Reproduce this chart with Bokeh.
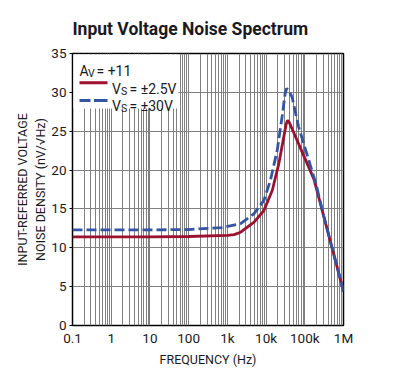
from bokeh.plotting import figure
from bokeh.models import (Range1d, FixedTicker, CustomJSTickFormatter, BoxAnnotation, Label)
from bokeh.embed import file_html
from bokeh.resources import INLINE

# ---- data ----
freq_red = [0.1, 1, 10, 100, 1000, 1500, 2200, 4900, 8800, 14500, 21500, 29000, 33000,
            36000, 40000, 52000, 95000, 173000, 300000, 500000, 1000000]
noise_red = [11.4, 11.4, 11.4, 11.45, 11.6, 11.7, 12.0, 13.3, 14.8, 17.4, 20.9, 24.4, 25.9,
             26.4, 26.1, 24.8, 21.8, 18.8, 14.3, 10.1, 4.4]

freq_blue = [0.1, 1, 10, 100, 700, 2200, 4900, 8800, 13000, 19500, 26000, 31000, 34000,
             38000, 47000, 69000, 105000, 160000, 200000, 300000, 500000, 1000000]
noise_blue = [12.3, 12.3, 12.3, 12.35, 12.6, 13.1, 14.4, 16.1, 18.7, 22.6, 26.9, 29.8, 30.5,
              30.3, 29.4, 25.6, 22.6, 19.6, 18.0, 14.3, 10.1, 4.4]

x_ticks = [0.1, 1, 10, 100, 1e3, 1e4, 1e5, 1e6]
x_tick_labels = ["0.1", "1", "10", "100", "1k", "10k", "100k", "1M"]
y_ticks = [0, 5, 10, 15, 20, 25, 30, 35]

RED = "#9c1030"
BLUE = "#3454a4"
GRID = "#808080"
INK = "#1a1a24"
FONT = "Roboto"

p = figure(width=402, height=371, x_axis_type="log",
           x_range=Range1d(0.1, 1e6), y_range=Range1d(0, 35),
           output_backend="svg", toolbar_location=None,
           min_border_left=72, min_border_right=59, min_border_top=53, min_border_bottom=46)
p.background_fill_color = "white"
p.border_fill_color = "white"
p.outline_line_color = "black"
p.outline_line_width = 1.5

minor = [k * 10.0 ** d for d in range(-1, 6) for k in range(2, 10)]
xt = FixedTicker(ticks=x_ticks, minor_ticks=minor)
p.xaxis.ticker = xt
p.xgrid.ticker = xt
p.yaxis.ticker = FixedTicker(ticks=y_ticks)

p.xgrid.grid_line_color = GRID
p.xgrid.minor_grid_line_color = GRID
p.xgrid.grid_line_width = 1
p.xgrid.minor_grid_line_width = 1
p.ygrid.grid_line_color = GRID
p.ygrid.grid_line_width = 1.2

p.xaxis.formatter = CustomJSTickFormatter(args=dict(tv=x_ticks, lb=x_tick_labels), code="""
    for (let i = 0; i < tv.length; i++) {
        if (Math.abs(Math.log10(tv[i]) - Math.log10(tick)) < 1e-6) return lb[i];
    }
    return "";
""")

for ax in (p.xaxis, p.yaxis):
    ax.axis_line_color = None
    ax.minor_tick_line_color = None
    ax.major_label_text_font = FONT
    ax.major_label_text_font_size = "13.5px"
    ax.major_label_text_color = INK
    ax.axis_label_text_font = FONT
    ax.axis_label_text_font_size = "12.5px"
    ax.axis_label_text_font_style = "normal"
    ax.axis_label_text_color = INK

p.xaxis.major_tick_line_color = None
p.xaxis.major_tick_out = 0
p.xaxis.major_label_standoff = 0
p.xaxis.axis_label = "FREQUENCY (Hz)"
p.xaxis.axis_label_standoff = 3

p.yaxis.major_tick_in = 0
p.yaxis.major_tick_out = 3
p.yaxis.major_tick_line_color = "black"
p.yaxis.major_label_standoff = 3
p.yaxis.axis_label = "INPUT-REFERRED VOLTAGE\nNOISE DENSITY (nV/√Hz)"
p.yaxis.axis_label_standoff = 0

p.title.text = "Input Voltage Noise Spectrum"
p.title.text_font = FONT
p.title.text_font_style = "bold"
p.title.text_font_size = "17.5px"
p.title.text_color = INK
p.title.align = "left"
p.title.standoff = 29

p.line(freq_red, noise_red, line_color=RED, line_width=2.8)
p.line(freq_blue, noise_blue, line_color=BLUE, line_width=2.8, line_dash="10 4")

# ---- legend (manual, for subscripts) ----
p.add_layout(BoxAnnotation(left=1, right=106, bottom=217, top=271,
                           left_units="screen", right_units="screen",
                           bottom_units="screen", top_units="screen",
                           fill_color="white", fill_alpha=1.0, line_color=None))

def txt(x, y, s, size="14px"):
    p.add_layout(Label(x=x, y=y, x_units="screen", y_units="screen", text=s,
                       text_font=FONT, text_font_size=size, text_color=INK,
                       text_baseline="alphabetic"))

txt(7, 255, "A")
txt(15.5, 252, "V", "10.5px")
txt(24, 255, "= +11")

p.add_layout(BoxAnnotation(left=7, right=35, bottom=241.2, top=244.2,
                           left_units="screen", right_units="screen",
                           bottom_units="screen", top_units="screen",
                           fill_color=RED, fill_alpha=1.0, line_color=None))
txt(39.5, 237, "V")
txt(48.5, 234, "S", "10.5px")
txt(57, 237, "= ±2.5V")

for l, r in ((7, 18), (21.5, 35)):
    p.add_layout(BoxAnnotation(left=l, right=r, bottom=223.6, top=226.6,
                               left_units="screen", right_units="screen",
                               bottom_units="screen", top_units="screen",
                               fill_color=BLUE, fill_alpha=1.0, line_color=None))
txt(39.5, 220, "V")
txt(48.5, 217, "S", "10.5px")
txt(57, 220, "= ±30V")

open("out.html", "w").write(file_html(p, INLINE))
